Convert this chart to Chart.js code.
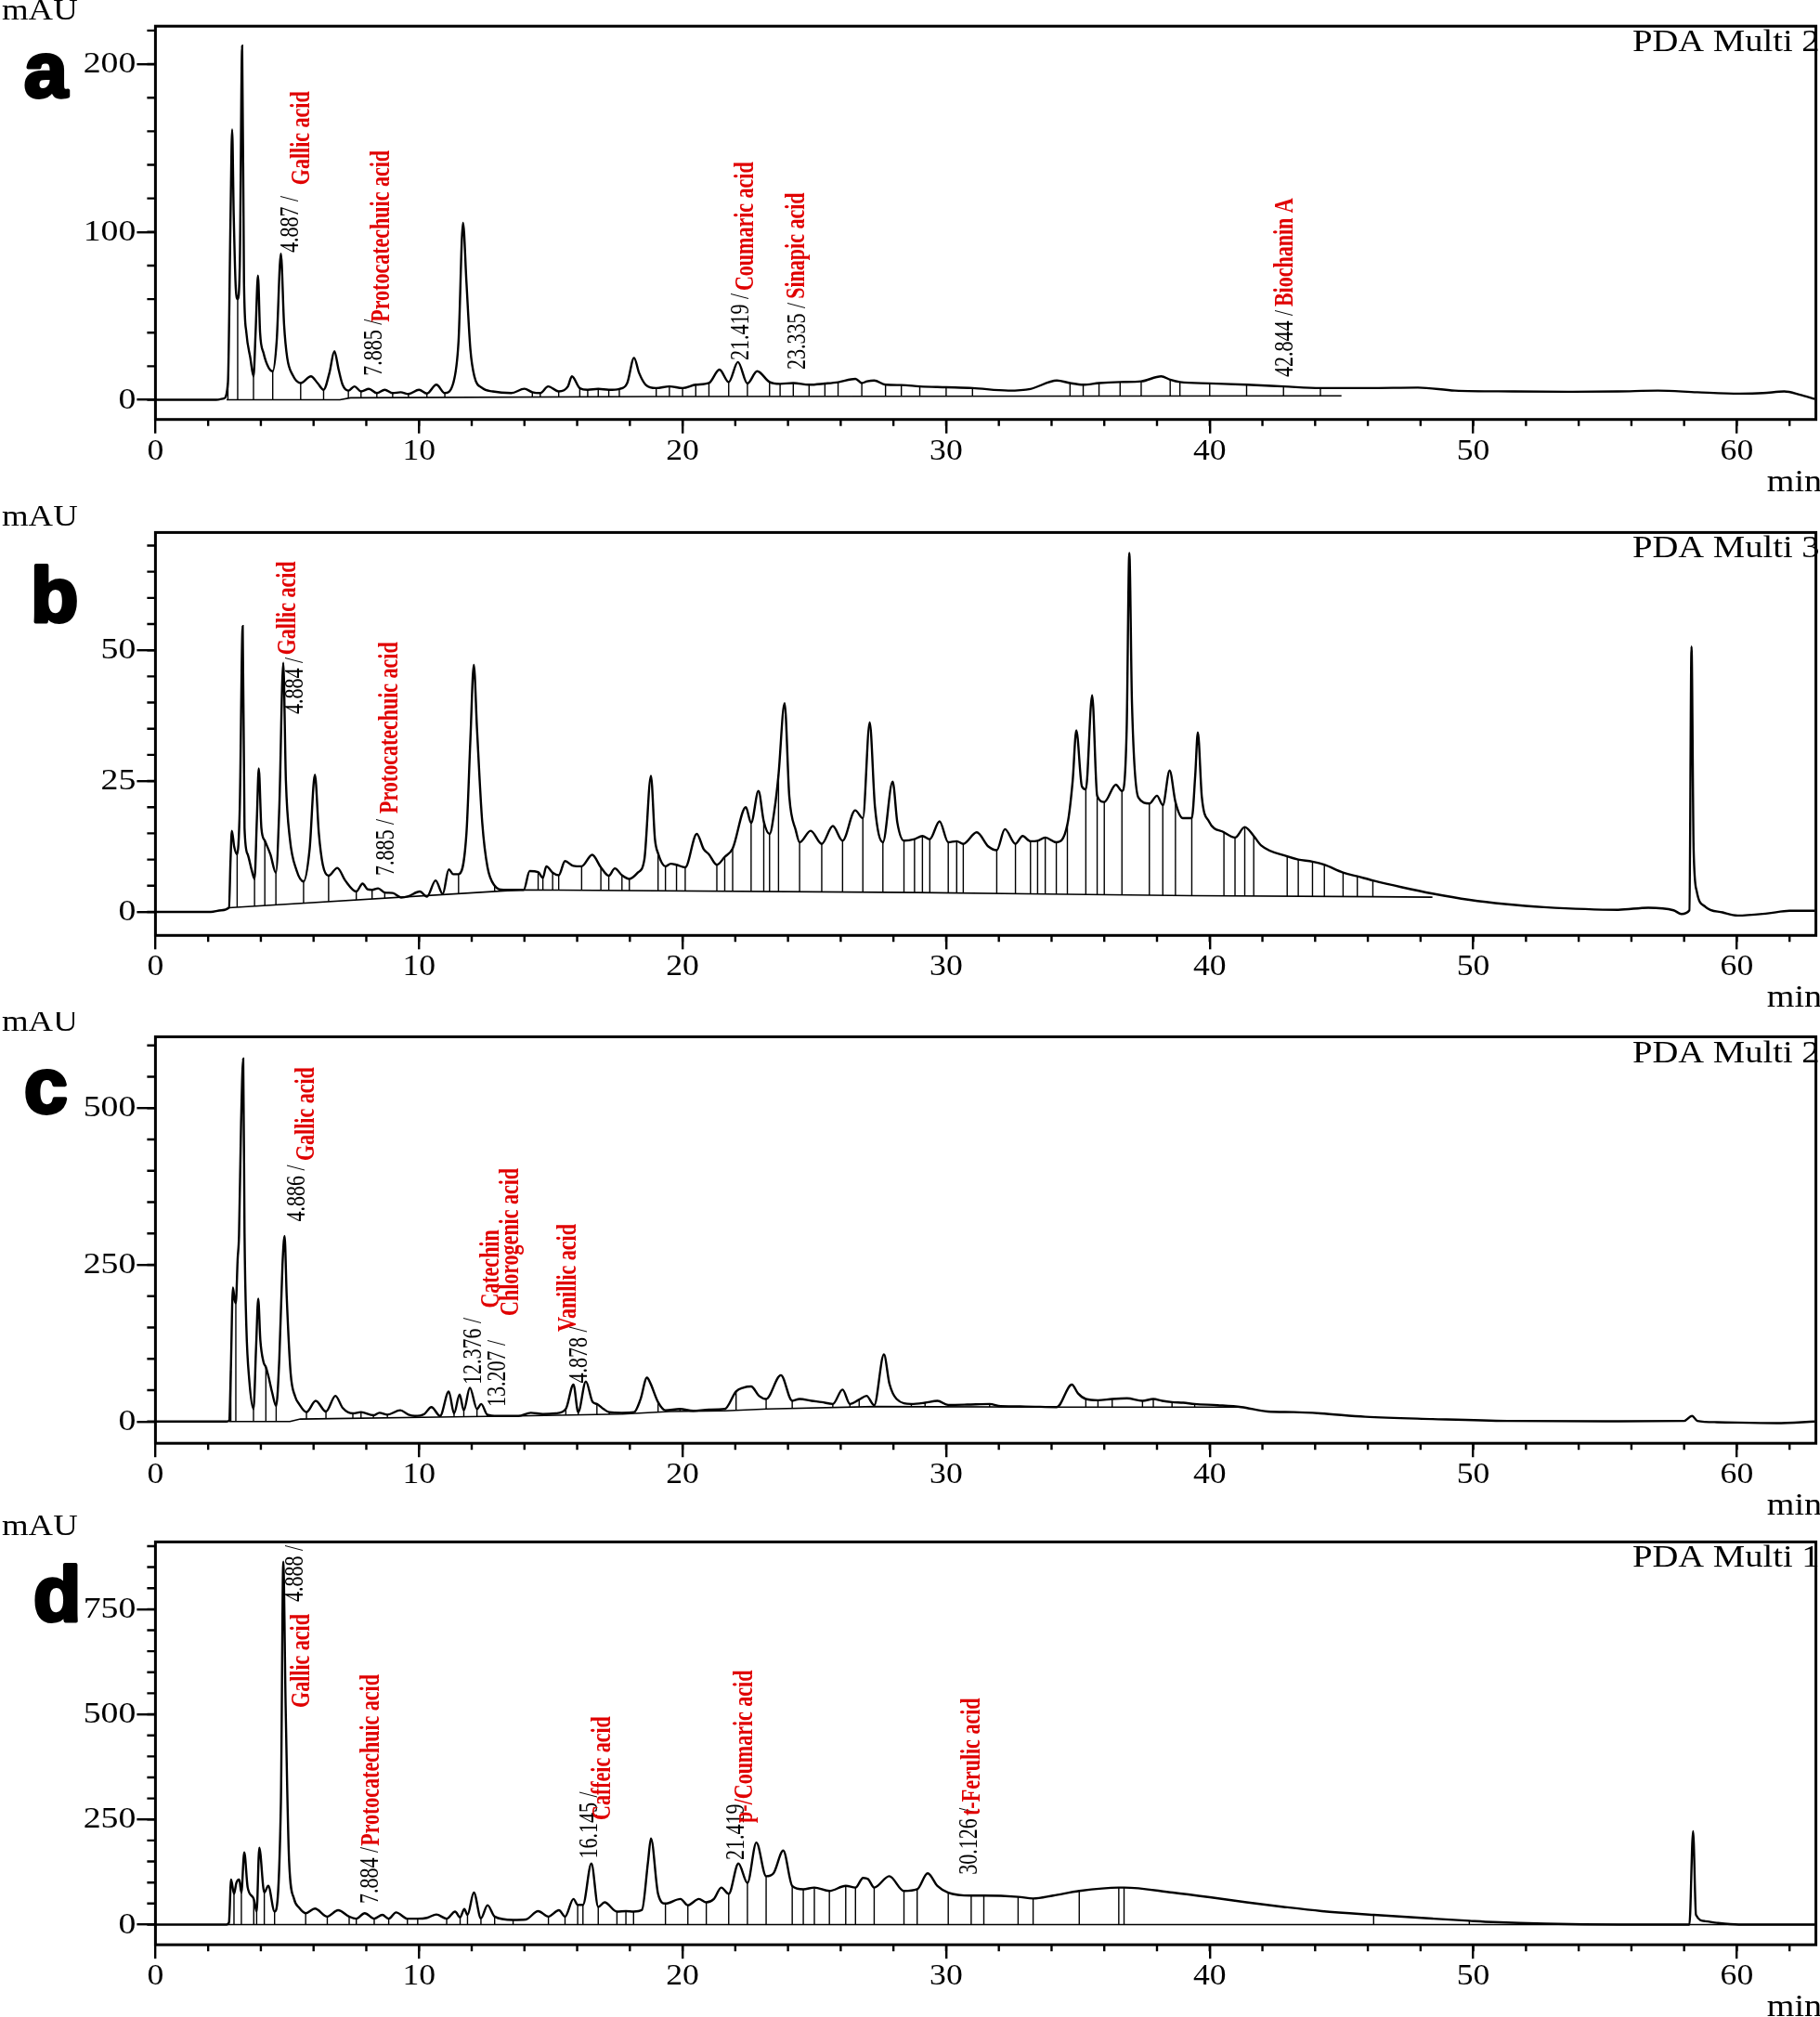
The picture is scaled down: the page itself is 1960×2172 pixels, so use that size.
<!DOCTYPE html>
<html lang="en">
<head>
<meta charset="UTF-8">
<title>HPLC chromatograms a-d</title>
<script src="https://cdn.jsdelivr.net/npm/chart.js"></script>
<style>
    body { margin: 0; background: #fff; width: 1960px; height: 2172px; overflow: hidden; position: relative; }
    canvas { position: absolute; left: 0; }
</style>
</head>
<body>
<canvas id="ca" width="1960" height="545" style="top:0px"></canvas>
<canvas id="cb" width="1960" height="545" style="top:545px"></canvas>
<canvas id="cc" width="1960" height="560" style="top:1090px"></canvas>
<canvas id="cd" width="1960" height="542" style="top:1630px"></canvas>

<script>
// ---- data: [retention time (min), absorbance (mAU)] ----
const traceA = [[0,0],[2.3,0],[2.6,0.8],[2.75,10],[2.85,110],[2.91,161],[2.97,110],[3.05,66],[3.12,60],[3.2,80],[3.29,211],[3.36,70],[3.45,40],[3.6,25],[3.72,14],[3.8,40],[3.89,74],[3.97,40],[4.1,28],[4.3,19],[4.45,17],[4.6,35],[4.76,87],[4.88,45],[5.0,25],[5.2,15],[5.51,10],[5.9,14],[6.15,10],[6.38,6],[6.6,16],[6.79,29],[6.95,18],[7.1,9],[7.32,5.5],[7.55,8],[7.8,5],[8.1,6.5],[8.4,4],[8.7,6],[9.0,4],[9.3,4.5],[9.6,3.5],[10.0,6],[10.3,3.8],[10.66,9],[10.98,4],[11.3,10],[11.5,35],[11.67,105.5],[11.8,70],[11.95,30],[12.1,14],[12.4,7],[12.8,5],[13.5,4],[14.0,6.6],[14.3,4.5],[14.6,4],[14.9,8],[15.3,5],[15.65,8],[15.8,14],[16.1,7],[16.4,6],[16.8,6.5],[17.2,6],[17.6,6.5],[17.9,10],[18.16,25],[18.35,16],[18.6,9],[19.0,7],[19.5,8],[20.0,7],[20.5,9],[21.0,10],[21.4,18],[21.75,10.6],[22.1,22.5],[22.46,9.7],[22.83,17],[23.3,10.6],[23.7,9.5],[24.2,10],[24.8,9],[25.4,9.7],[25.9,10.5],[26.56,12.5],[26.8,10],[27.0,11],[27.27,11.5],[27.7,9],[28.3,8.8],[29.0,8],[30.0,7.5],[31.0,7],[32.36,5.5],[33.2,6.5],[34.2,11.5],[34.7,10],[35.2,9],[35.8,10],[36.6,10.6],[37.4,11],[38.16,14],[38.5,12],[38.87,10.6],[40.0,9.8],[41.4,9],[42.8,8],[44.2,7],[46.0,7],[47.9,7.3],[49.3,5.5],[51.5,5],[53.6,4.8],[55.5,5],[57.0,5.5],[58.5,4.5],[60.1,3.7],[61.0,4],[61.8,5],[62.4,3],[62.96,0.5]];
const baseA = [[2.7,0],[7.0,0],[7.4,1.2],[19,2],[45,2.4]];
const dropsA = [2.75,3.12,3.72,4.45,5.51,6.38,7.32,7.8,8.4,9.0,9.6,10.3,10.98,14.3,14.6,15.3,16.1,16.4,16.8,17.2,17.6,19.0,19.5,20.0,20.5,21.0,21.75,22.46,23.3,23.7,24.2,24.8,25.4,25.9,26.8,27.7,28.3,29.0,30.0,31.0,34.7,35.2,35.8,36.6,37.4,38.5,38.87,40.0,41.4,42.8,44.2];

const traceB = [[0,0],[2.1,0],[2.5,0.3],[2.79,0.8],[2.85,10],[2.9,15.5],[2.99,12.4],[3.1,11],[3.2,20],[3.31,54.6],[3.38,16],[3.5,11],[3.65,8],[3.76,6.3],[3.85,18],[3.92,27.4],[4.02,16],[4.15,13.6],[4.36,11],[4.57,7.5],[4.7,20],[4.85,47.6],[4.95,25],[5.1,14],[5.35,8],[5.62,5.8],[5.85,12],[6.05,26.2],[6.2,15],[6.35,9],[6.57,6.9],[6.9,8.4],[7.2,6],[7.62,3.9],[7.86,5.4],[8.05,4.3],[8.22,4.2],[8.45,4.5],[8.7,3.7],[9.0,3.6],[9.32,2.75],[9.6,3],[10.03,3.9],[10.3,2.9],[10.63,6],[10.9,3.4],[11.13,8.1],[11.3,7.2],[11.5,7.2],[11.8,15],[11.95,33],[12.08,47.2],[12.2,35],[12.4,17],[12.6,8.5],[12.87,5],[13.2,4.2],[13.97,4.2],[14.2,7.8],[14.52,7.6],[14.7,6.5],[14.83,8.7],[15.07,7.5],[15.3,7],[15.54,9.7],[15.85,8.8],[16.17,8.7],[16.57,10.9],[16.9,8.5],[17.2,6.9],[17.43,8.3],[17.7,7],[17.98,6.3],[18.3,7.5],[18.55,10],[18.8,26],[18.95,14],[19.07,11.2],[19.35,8.7],[19.55,9.2],[19.77,9],[20.1,8.5],[20.54,14.9],[20.8,12],[21.0,11],[21.3,9],[21.6,10.5],[21.9,12.1],[22.4,20],[22.6,17],[22.88,23.1],[23.08,17.3],[23.3,14.9],[23.5,20],[23.64,26.2],[23.87,39.9],[24.05,22],[24.3,15.5],[24.44,13.3],[24.86,15.5],[25.28,13],[25.7,16.4],[26.07,13.6],[26.55,19.4],[26.84,17.9],[27.1,36.2],[27.3,20],[27.6,13.3],[27.97,24.9],[28.15,17],[28.4,13.6],[28.8,13.9],[29.1,14.5],[29.38,13.9],[29.75,17.3],[30.08,13.3],[30.4,13.5],[30.65,13],[31.16,15.2],[31.6,12.5],[31.92,11.8],[32.23,15.8],[32.63,13],[32.9,14.5],[33.2,13.5],[33.47,13.6],[33.76,14.2],[34.18,13.3],[34.6,16.7],[34.8,25],[34.94,34.7],[35.15,24],[35.3,23.4],[35.54,41.4],[35.73,22.2],[36.0,21],[36.44,24.3],[36.67,23.1],[36.85,35],[36.95,68.6],[37.05,40],[37.29,21.9],[37.71,20.7],[38.0,22.2],[38.22,20.4],[38.48,27],[38.7,21],[38.98,17.9],[39.32,17.9],[39.45,26],[39.55,34.3],[39.7,22],[39.97,17.3],[40.54,15.2],[40.96,14.2],[41.33,16.2],[41.67,14.5],[41.95,12.7],[42.94,10.6],[43.36,10],[43.9,9.6],[44.35,9],[45.06,7.5],[45.6,6.8],[46.19,6],[47.3,4.7],[48.45,3.5],[49.86,2.3],[51.2,1.5],[52.68,0.9],[55.5,0.4],[56.64,0.8],[57.6,0.3],[57.9,-0.4],[58.2,0.3],[58.28,50.7],[58.36,12],[58.48,3.9],[58.8,1],[59.46,-0.1],[60.03,-0.7],[61.16,-0.3],[62.0,0.2],[62.96,0.2]];
const baseB = [[2.79,0.8],[13.2,4.0],[14.0,4.2],[28.9,3.7],[33.8,3.4],[39.3,3.1],[46.2,2.9],[48.45,2.8]];
const dropsB = [3.1,3.76,4.15,4.57,5.62,6.57,7.62,8.22,8.7,9.32,11.5,12.87,14.52,14.7,15.07,15.3,16.17,16.9,17.2,17.7,17.98,19.07,19.35,19.77,20.1,21.3,21.6,21.9,22.6,23.08,23.3,23.64,24.44,25.28,26.07,26.84,27.6,28.4,28.8,29.1,29.38,30.08,30.4,30.65,31.92,32.63,33.2,33.47,33.76,34.18,34.6,35.3,35.73,36.0,36.67,37.71,38.22,38.7,39.32,40.54,40.96,41.33,41.67,42.94,43.36,43.9,44.35,45.06,45.6,46.19];

const traceC = [[0,0],[2.7,0],[2.8,2],[2.86,81.6],[2.94,214],[3.0,195],[3.05,189],[3.12,260],[3.17,296],[3.25,477],[3.33,579],[3.38,301],[3.45,150],[3.56,66],[3.72,20],[3.82,120],[3.9,196],[3.98,130],[4.1,95],[4.19,87],[4.3,70],[4.43,46],[4.58,25],[4.7,100],[4.82,250],[4.9,296],[4.98,200],[5.13,77],[5.3,40],[5.45,28],[5.73,15],[6.08,33],[6.47,16],[6.83,41],[7.1,22],[7.49,13],[7.8,15],[8.27,10],[8.5,14],[8.8,11],[9.29,18],[9.6,11],[9.84,9],[10.2,12],[10.47,23],[10.8,9],[11.13,48],[11.33,13],[11.54,43],[11.7,18],[11.93,54],[12.2,20],[12.36,28],[12.59,11],[12.98,9],[13.77,9],[14.24,14],[14.7,12],[15.18,13],[15.57,20],[15.86,59],[16.04,15],[16.33,64],[16.59,31],[16.75,28],[17.0,20],[17.22,15],[17.69,14],[18.16,15],[18.4,35],[18.65,70],[18.78,61],[19.07,31],[19.35,18],[19.9,20],[20.4,17],[21.0,19],[21.6,20],[22.03,48],[22.3,54],[22.6,56],[22.9,41],[23.17,36],[23.73,74],[24.16,33],[24.44,36],[24.9,33],[25.28,31],[25.7,28],[26.07,51],[26.35,28],[26.7,35],[26.98,41],[27.27,26],[27.64,107],[27.85,60],[28.12,36],[28.68,28],[29.2,30],[29.67,33],[30.08,26.5],[30.8,27],[31.65,28],[32.07,24.5],[33.0,24],[34.2,23],[34.77,59],[35.0,45],[35.3,36],[35.76,34],[36.3,36],[36.86,37],[37.45,33],[37.86,36],[38.2,33],[38.57,31],[39.0,30],[39.43,28],[40.3,26],[41.2,23],[42.2,16],[43.2,15],[44.2,13],[45.9,7.7],[48.45,4],[51.3,1],[55.0,0.5],[58.0,1],[58.3,9],[58.5,1],[59.24,-1],[61.5,-2.5],[62.96,0]];
const baseC = [[2.8,0],[5.1,0],[5.5,4],[11.3,7.5],[13.8,9],[17.7,12],[19.5,16],[21.6,17],[23.2,20],[27.3,24],[34.2,23],[41.2,23]];
const dropsC = [2.86,3.05,3.72,4.19,4.58,5.73,6.47,7.49,7.8,8.27,8.8,9.84,11.33,11.7,12.2,12.59,15.57,16.04,16.75,17.22,19.07,19.35,19.9,20.4,21.0,22.03,23.17,24.16,25.7,26.35,26.7,28.68,29.2,30.08,31.65,35.3,35.76,36.3,37.45,37.86,38.57,39.43];

const traceD = [[0,0],[2.7,0],[2.79,5],[2.87,107],[2.98,73],[3.07,99],[3.18,107],[3.26,76],[3.37,172],[3.5,88],[3.73,61],[3.84,31],[3.94,183],[4.13,76],[4.28,92],[4.52,31],[4.76,290],[4.85,863],[4.94,519],[5.07,153],[5.26,61],[5.45,40],[5.7,27],[6.05,38],[6.52,19],[6.93,34],[7.35,19],[7.62,14],[7.94,27],[8.3,14],[8.61,23],[8.85,14],[9.13,29],[9.56,14],[9.95,14],[10.3,16],[10.66,24],[11.05,14],[11.37,31],[11.56,17],[11.72,37],[11.84,23],[12.08,76],[12.35,15],[12.6,46],[12.87,19],[13.57,11],[14.05,12],[14.52,32],[14.91,19],[15.31,34],[15.54,19],[15.86,61],[16.02,47],[16.22,47],[16.54,145],[16.8,42],[17.04,53],[17.51,31],[17.85,32],[18.14,31],[18.46,35],[18.69,150],[18.8,205],[19.07,73],[19.35,50],[19.92,61],[20.2,46],[20.62,61],[20.9,53],[21.19,61],[21.47,88],[21.75,73],[22.12,145],[22.46,99],[22.8,195],[23.17,115],[23.45,122],[23.82,176],[24.16,92],[24.58,84],[25.0,88],[25.57,80],[26.19,92],[26.56,88],[26.85,111],[27.04,108],[27.27,88],[27.84,115],[28.4,80],[28.9,84],[29.3,122],[29.67,92],[30.08,76],[30.95,69],[31.43,69],[32.73,66],[33.3,62],[34.06,69],[35.05,80],[36.55,88],[36.75,88],[38.6,76],[40.0,65],[41.4,53],[42.8,42],[44.25,32],[46.22,23],[48.49,14],[49.85,9],[50.75,6],[52.73,2],[55.56,0],[58.2,0],[58.34,222],[58.45,23],[58.8,8],[59.24,4],[60.08,0],[62.96,0]];
const baseD = [[2.7,0],[62.96,0]];
const dropsD = [2.79,2.98,3.26,3.73,3.84,4.13,4.52,5.7,6.52,7.35,7.62,8.3,8.85,9.56,9.95,11.05,11.56,11.84,12.35,12.87,13.57,14.91,15.54,16.02,16.22,16.8,17.51,17.85,18.14,19.35,20.2,20.9,21.75,22.46,23.17,24.16,24.58,25.0,25.57,26.19,26.56,27.27,28.4,28.9,30.08,30.95,31.43,32.73,33.3,35.05,36.55,36.75,46.22,49.85];

// peak labels, anchored in data units (time, mAU) at the start of the rotated text
const labelsA = [
    { t: 5.41, v: 87.7, text: '4.887 /' }, { t: 5.83, v: 128, text: 'Gallic acid', red: true },
    { t: 8.58, v: 14.3, text: '7.885 /' }, { t: 8.86, v: 46.4, text: 'Protocatechuic acid', red: true },
    { t: 22.49, v: 23.5, text: '21.419 /' }, { t: 22.66, v: 65, text: 'Coumaric acid', red: true },
    { t: 24.63, v: 18, text: '23.335 /' }, { t: 24.6, v: 60.2, text: 'Sinapic acid', red: true },
    { t: 43.15, v: 13.6, text: '42.844 /' }, { t: 43.15, v: 55.6, text: 'Biochanin A', red: true }
];
const labelsB = [
    { t: 5.58, v: 37.8, text: '4.884 /' }, { t: 5.3, v: 49.1, text: 'Gallic acid', red: true },
    { t: 9.03, v: 6.9, text: '7.885 /' }, { t: 9.18, v: 18.8, text: 'Protocatechuic acid', red: true }
];
const labelsC = [
    { t: 5.65, v: 319, text: '4.886 /' }, { t: 6.0, v: 416, text: 'Gallic acid', red: true },
    { t: 12.35, v: 59, text: '12.376 /' }, { t: 13.26, v: 23.4, text: '13.207 /' },
    { t: 13.01, v: 181, text: 'Catechin', red: true }, { t: 13.75, v: 168.6, text: 'Chlorogenic acid', red: true },
    { t: 16.36, v: 61, text: '4.878 /' }, { t: 15.94, v: 143.4, text: 'Vanillic acid', red: true }
];
const labelsD = [
    { t: 5.58, v: 767.6, text: '4.888 /' }, { t: 5.83, v: 515.8, text: 'Gallic acid', red: true },
    { t: 8.44, v: 49.7, text: '7.884 /' }, { t: 8.47, v: 187, text: 'Protocatechuic acid', red: true },
    { t: 16.75, v: 156.6, text: '16.145 /' }, { t: 17.24, v: 248.5, text: 'Caffeic acid', red: true },
    { t: 22.31, v: 153.5, text: '21.419' }, { t: 22.63, v: 241.9, text: 'p-/Coumaric acid', red: true },
    { t: 31.18, v: 118.4, text: '30.126 /' }, { t: 31.27, v: 259.5, text: 't-Ferulic acid', red: true }
];

// ---- layout (pixels inside each canvas) ----
const SERIF = 'Liberation Serif, Times New Roman, serif';
const FRAME_LEFT = 167.4;
const FRAME_RIGHT = 1955.6;
const panels = [
    { id: 'ca', top: 28.2, bottom: 451.7, yMin: -11.7, yMax: 222.6, major: 100, minor: 20, letter: 'a', lx: 26, ly: 104, pda: 'PDA Multi 2', trace: traceA, base: baseA, drops: dropsA, labels: labelsA },
    { id: 'cb', top: 28.4, bottom: 462.3, yMin: -4.5, yMax: 72.5, major: 25, minor: 5, letter: 'b', lx: 33, ly: 125, pda: 'PDA Multi 3', trace: traceB, base: baseB, drops: dropsB, labels: labelsB },
    { id: 'cc', top: 26.5, bottom: 464.2, yMin: -34.7, yMax: 613.8, major: 250, minor: 50, letter: 'c', lx: 26, ly: 108, pda: 'PDA Multi 2', trace: traceC, base: baseC, drops: dropsC, labels: labelsC },
    { id: 'cd', top: 30.4, bottom: 464.2, yMin: -48, yMax: 910, major: 250, minor: 50, letter: 'd', lx: 36, ly: 116, pda: 'PDA Multi 1', trace: traceD, base: baseD, drops: dropsD, labels: labelsD }
];

function baseAt(base, t) {
    if (t <= base[0][0]) return base[0][1];
    for (let i = 1; i < base.length; i++) {
        if (t <= base[i][0]) {
            const [t0, v0] = base[i - 1], [t1, v1] = base[i];
            return v0 + (v1 - v0) * (t - t0) / (t1 - t0);
        }
    }
    return base[base.length - 1][1];
}

// vertical integration marks: from the baseline up to the trace point at that time
function dropPoints(trace, base, times) {
    const pts = [];
    times.forEach(t => {
        const p = trace.find(q => Math.abs(q[0] - t) < 1e-6);
        if (!p) return;
        pts.push({ x: p[0], y: baseAt(base, p[0]) }, { x: p[0], y: p[1] }, { x: p[0], y: null });
    });
    return pts;
}

// text slightly widened, like the scanned figure
function stretched(ctx, text, x, y, sx) {
    ctx.save();
    ctx.translate(x, y);
    ctx.scale(sx, 1);
    ctx.fillText(text, 0, 0);
    ctx.restore();
}

const decor = {
    id: 'decor',
    afterDraw(chart, args, o) {
        const { ctx, chartArea: a, scales: { x, y } } = chart;
        ctx.save();
        ctx.fillStyle = '#000';
        ctx.strokeStyle = '#000';

        // channel name, top right
        ctx.font = '33px ' + SERIF;
        ctx.textAlign = 'right';
        ctx.textBaseline = 'alphabetic';
        stretched(ctx, o.pda, a.right + 4, a.top + 27, 1.17);

        // tick labels from the axes' own ticks
        ctx.font = '31px ' + SERIF;
        ctx.textBaseline = 'middle';
        y.ticks.forEach(t => stretched(ctx, String(t.value), a.left - 21, y.getPixelForValue(t.value) + 1, 1.22));
        ctx.textAlign = 'center';
        ctx.textBaseline = 'alphabetic';
        x.ticks.forEach(t => stretched(ctx, String(t.value), x.getPixelForValue(t.value), a.bottom + 43, 1.15));

        // minor ticks
        ctx.lineWidth = 2.4;
        ctx.beginPath();
        for (let k = Math.ceil(o.yMin / o.minor); k * o.minor <= o.yMax; k++) {
            const py = y.getPixelForValue(k * o.minor);
            ctx.moveTo(a.left - 9, py);
            ctx.lineTo(a.left, py);
        }
        for (let k = 1; k * 2 <= 62; k++) {
            const px = x.getPixelForValue(k * 2);
            ctx.moveTo(px, a.bottom);
            ctx.lineTo(px, a.bottom + 7);
        }
        ctx.stroke();

        // frame
        ctx.lineWidth = 3;
        ctx.strokeRect(a.left, a.top, a.right - a.left, a.bottom - a.top);

        // axis units
        ctx.textAlign = 'left';
        ctx.font = '32px ' + SERIF;
        stretched(ctx, 'mAU', 2, a.top - 7, 1.15);
        ctx.textAlign = 'right';
        ctx.font = '34px ' + SERIF;
        stretched(ctx, 'min', 1962, a.bottom + 77, 1.12);

        // panel letter
        ctx.textAlign = 'left';
        ctx.font = 'bold 84px Liberation Sans, Arial, sans-serif';
        ctx.lineWidth = 4;
        ctx.lineJoin = 'round';
        ctx.fillText(o.letter, o.lx, o.ly);
        ctx.strokeText(o.letter, o.lx, o.ly);

        // rotated peak labels
        o.labels.forEach(l => {
            ctx.save();
            ctx.translate(x.getPixelForValue(l.t), y.getPixelForValue(l.v));
            ctx.rotate(-Math.PI / 2);
            ctx.scale(1, 1.3);
            ctx.fillStyle = l.red ? '#e00000' : '#000';
            ctx.font = (l.red ? 'bold ' : '') + '22px ' + SERIF;
            ctx.textAlign = 'left';
            ctx.fillText(l.text, 0, 0);
            ctx.restore();
        });
        ctx.restore();
    }
};

panels.forEach(p => {
    const canvas = document.getElementById(p.id);
    const h = canvas.height;
    new Chart(canvas, {
        type: 'line',
        data: {
            datasets: [{
                data: p.trace.map(([t, v]) => ({ x: t, y: v })),
                borderColor: '#000',
                borderWidth: 2.4,
                pointRadius: 0,
                cubicInterpolationMode: 'monotone'
            }, {
                data: p.base.map(([t, v]) => ({ x: t, y: v })),
                borderColor: '#000',
                borderWidth: 1.6,
                pointRadius: 0
            }, {
                data: dropPoints(p.trace, p.base, p.drops),
                borderColor: '#000',
                borderWidth: 1.4,
                pointRadius: 0,
                spanGaps: false
            }]
        },
        options: {
            responsive: false,
            animation: false,
            events: [],
            layout: { padding: { top: p.top, right: 1960 - FRAME_RIGHT, left: 0, bottom: 0 } },
            plugins: {
                legend: { display: false },
                tooltip: { enabled: false },
                decor: { pda: p.pda, letter: p.letter, lx: p.lx, ly: p.ly, yMin: p.yMin, yMax: p.yMax, minor: p.minor, labels: p.labels }
            },
            scales: {
                x: {
                    type: 'linear',
                    min: 0,
                    max: 63,
                    afterFit: s => { s.height = h - p.bottom; },
                    afterBuildTicks: s => {
                        const out = [];
                        for (let v = 0; v <= 60; v += 10) out.push({ value: v });
                        s.ticks = out;
                    },
                    border: { display: false },
                    grid: { drawOnChartArea: false, tickLength: 15, lineWidth: 2.4, color: '#000' },
                    ticks: { display: false }
                },
                y: {
                    type: 'linear',
                    min: p.yMin,
                    max: p.yMax,
                    afterFit: s => { s.width = FRAME_LEFT; },
                    afterBuildTicks: s => {
                        const out = [];
                        for (let v = 0; v <= p.yMax; v += p.major) out.push({ value: v });
                        s.ticks = out;
                    },
                    border: { display: false },
                    grid: { drawOnChartArea: false, tickLength: 20, lineWidth: 2.4, color: '#000' },
                    ticks: { display: false }
                }
            }
        },
        plugins: [decor]
    });
});
</script>
</body>
</html>
